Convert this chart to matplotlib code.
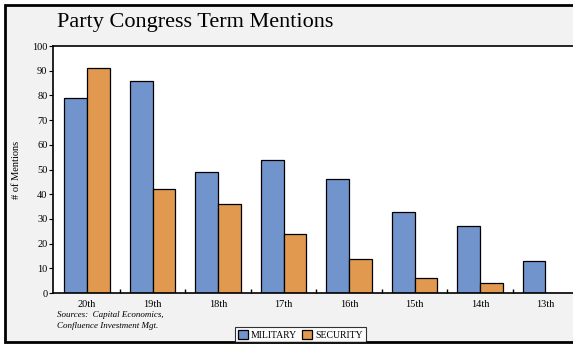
import numpy as np
import matplotlib.pyplot as plt
from matplotlib.patches import Rectangle

# Datos
congresos = ['20th', '19th', '18th', '17th', '16th', '15th', '14th', '13th']
military = [79, 86, 49, 54, 46, 33, 27, 13]
security = [91, 42, 36, 24, 14, 6, 4, 0]

plt.rcParams['font.family'] = ['Liberation Serif', 'DejaVu Serif']

fig = plt.figure(figsize=(5.73, 3.44), dpi=100, facecolor='white')

# Marco gris con borde negro
fig.patches.append(Rectangle((0.009, 0.006), 1.2, 0.979, transform=fig.transFigure,
                             facecolor='#f2f2f2', edgecolor='black', linewidth=2, zorder=-1))

ax = fig.add_axes([0.0925, 0.148, 0.9075, 0.718])
ax.set_facecolor('white')

x = np.arange(len(congresos))
w = 0.35
ax.bar(x - w / 2, military, w, color='#7194cc', edgecolor='black', linewidth=0.9, label='MILITARY')
ax.bar(x + w / 2, security, w, color='#e0994e', edgecolor='black', linewidth=0.9, label='SECURITY')

ax.set_xlim(-0.52, 7.42)
ax.set_ylim(0, 100)
ax.set_yticks(np.arange(0, 101, 10))
ax.set_xticks(x)
ax.set_xticklabels(congresos, fontsize=7.5)
ax.set_xticks(x[:-1] + 0.5, minor=True)
ax.tick_params(axis='x', which='major', length=0, pad=5)
ax.tick_params(axis='x', which='minor', direction='in', length=3, width=1)
ax.tick_params(axis='y', labelsize=7.5, length=3, pad=1)
for s in ['top', 'left', 'bottom']:
    ax.spines[s].set_linewidth(1.2)
ax.spines['right'].set_visible(False)

ax.set_ylabel('# of Mentions', fontsize=7.5, labelpad=8)

fig.text(0.1, 0.935, 'Party Congress Term Mentions', fontsize=16, va='center', ha='left')
fig.text(0.099, 0.068, 'Sources:  Capital Economics,\nConfluence Investment Mgt.',
         fontsize=6.5, style='italic', va='center', ha='left', linespacing=1.5)

leg = fig.legend(loc='center', bbox_to_anchor=(0.524, 0.027), ncol=2, fontsize=7,
                 frameon=True, fancybox=False, edgecolor='black', handlelength=1,
                 handleheight=1, handletextpad=0.3, columnspacing=0.6, borderpad=0.3)
leg.get_frame().set_linewidth(0.8)

plt.savefig('out.png', dpi=100, facecolor=fig.get_facecolor())
